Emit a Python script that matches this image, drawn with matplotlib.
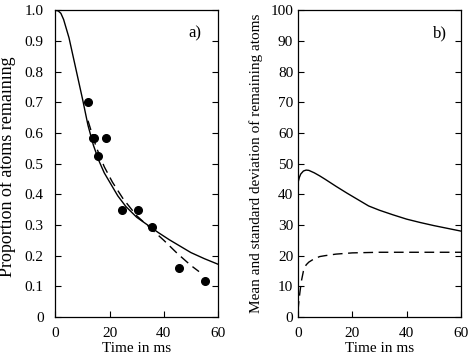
import matplotlib
matplotlib.use("Agg")
import matplotlib.pyplot as plt

plt.rcParams["font.family"] = ["Liberation Serif", "DejaVu Serif"]
plt.rcParams["mathtext.fontset"] = "stix"

# ── Data ──────────────────────────────────────────────────────────────────────

# panel a) measured points
meas_t = [11.9, 14.0, 14.2, 15.7, 18.8, 24.7, 30.5, 35.6, 45.5, 55.3]
meas_p = [0.700, 0.582, 0.582, 0.524, 0.582, 0.350, 0.350, 0.293, 0.161, 0.117]

# panel a) model (solid)
model_t = [0, 1, 2, 3, 4, 5, 6, 7, 8, 10, 12, 14, 16, 18, 20, 23, 26, 30,
           34, 38, 42, 46, 50, 55, 60]
model_p = [1.0, 0.998, 0.99, 0.97, 0.94, 0.91, 0.87, 0.83, 0.79, 0.71, 0.625,
           0.56, 0.51, 0.47, 0.44, 0.395, 0.36, 0.325, 0.30, 0.275, 0.252,
           0.231, 0.21, 0.19, 0.172]

# panel a) fit (dashed)
fit_t = [12, 15, 18, 21, 25, 30, 35, 40, 45, 50, 53]
fit_p = [0.64, 0.555, 0.49, 0.44, 0.385, 0.33, 0.29, 0.25, 0.207, 0.168, 0.148]

# panel b) mean (solid)
mean_t = [0, 0.5, 1, 2, 3, 4, 6, 8, 10, 14, 18, 22, 26, 30, 35, 40, 45, 50, 55, 60]
mean_n = [43.8, 45.5, 46.6, 47.6, 47.9, 47.8, 47.0, 46.0, 44.9, 42.6, 40.4,
          38.3, 36.2, 34.8, 33.3, 31.9, 30.8, 29.8, 28.9, 28.0]

# panel b) standard deviation (dashed)
std_t = [0, 0.3, 0.7, 1.2, 2, 3, 4, 6, 8, 10, 14, 20, 30, 40, 60]
std_n = [2, 5, 8, 11.5, 15, 17, 17.9, 19, 19.7, 20, 20.5, 20.9, 21.1, 21.1, 21.1]

FS = 11


def style_ax(ax, ypad):
    ax.tick_params(direction="in", length=4, width=0.8, labelsize=FS,
                   left=True, right=True, bottom=True, top=False)
    ax.tick_params(axis="x", pad=7)
    ax.tick_params(axis="y", pad=ypad)
    for s in ax.spines.values():
        s.set_linewidth(0.9)
    ax.set_xlim(0, 60)
    ax.set_xticks([0, 20, 40, 60])
    ax.set_xlabel("Time in ms", fontsize=FS, labelpad=2)


fig = plt.figure(figsize=(4.69, 3.56), dpi=100)
ax1 = fig.add_axes([0.1183, 0.1096, 0.3465, 0.8615])
ax2 = fig.add_axes([0.6354, 0.1096, 0.3475, 0.8615])

# ── Panel a ──────────────────────────────────────────────────────────────────
ax1.plot(model_t, model_p, color="black", lw=1.0)
ax1.plot(fit_t, fit_p, color="black", lw=1.0, dashes=(7, 4))
ax1.plot(meas_t, meas_p, "o", color="black", ms=5.5)
style_ax(ax1, ypad=8.5)
ax1.set_ylim(0, 1.0)
ax1.set_yticks([0, 0.1, 0.2, 0.3, 0.4, 0.5, 0.6, 0.7, 0.8, 0.9, 1.0])
ax1.set_yticklabels(["0", "0.1", "0.2", "0.3", "0.4", "0.5", "0.6", "0.7",
                     "0.8", "0.9", "1.0"])
ax1.set_ylabel("Proportion of atoms remaining", fontsize=13)
ax1.yaxis.set_label_coords(-0.24, 0.49)
ax1.text(0.86, 0.925, "a)", transform=ax1.transAxes, fontsize=FS + 1,
         ha="center", va="center")

# ── Panel b ──────────────────────────────────────────────────────────────────
ax2.plot(mean_t, mean_n, color="black", lw=1.0)
ax2.plot(std_t, std_n, color="black", lw=1.0, dashes=(7, 4))
style_ax(ax2, ypad=3.5)
ax2.set_ylim(0, 100)
ax2.set_yticks(range(0, 101, 10))
ax2.set_ylabel("Mean and standard deviation of remaining atoms", fontsize=FS)
ax2.yaxis.set_label_coords(-0.215, 0.5)
ax2.text(0.87, 0.925, "b)", transform=ax2.transAxes, fontsize=FS + 1,
         ha="center", va="center")

fig.savefig("out.png", dpi=100)
